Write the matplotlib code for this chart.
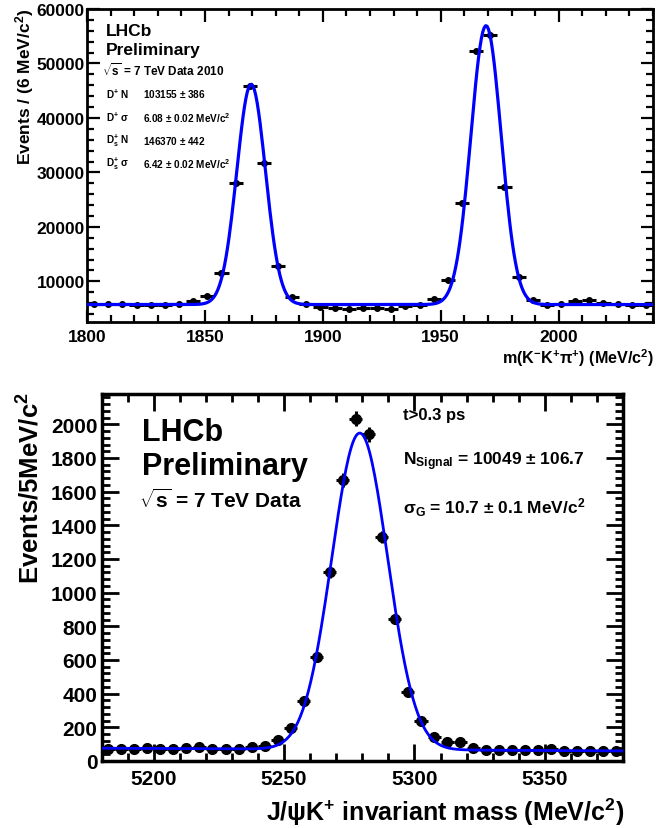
import matplotlib
matplotlib.use('Agg')
import matplotlib.pyplot as plt
import numpy as np
from matplotlib.ticker import MultipleLocator

plt.rcParams['font.family'] = ['Liberation Sans', 'DejaVu Sans']
plt.rcParams['font.weight'] = 'bold'
plt.rcParams['mathtext.fontset'] = 'custom'
plt.rcParams['mathtext.rm'] = 'Liberation Sans:bold'
plt.rcParams['mathtext.it'] = 'Liberation Sans:bold'
plt.rcParams['mathtext.bf'] = 'Liberation Sans:bold'
plt.rcParams['mathtext.sf'] = 'Liberation Sans:bold'
plt.rcParams['mathtext.default'] = 'rm'

# --- top panel data: m(K-K+pi+), 6 MeV bins ---
top_centers = np.arange(1803, 2040, 6)
top_counts = [5770, 5770, 5770, 5700, 5650, 5650, 5770, 6330, 7240, 11600,
              28140, 45800, 31690, 12800, 7190, 5770, 5350, 5160, 4980, 5160,
              5160, 4980, 5460, 5590, 6690, 10180, 24460, 52200, 55200, 27330,
              10860, 6510, 5590, 5770, 6380, 6510, 5960, 5770, 5590, 5590]
# fit: baseline, (mean, sigma, amplitude) for D+ and Ds+
top_base = 5750
top_peaks = [(1869.6, 6.08, 40450), (1969.2, 6.42, 51200)]

# --- bottom panel data: J/psi K+ mass, 5 MeV bins ---
bot_centers = np.arange(5182.5, 5380, 5)
bot_counts = [71, 71, 71, 75, 71, 71, 75, 81, 69, 69, 71, 85, 91, 126, 196,
              354, 619, 1120, 1668, 2034, 1940, 1331, 843, 408, 235, 144, 111,
              111, 75, 67, 67, 67, 67, 67, 71, 62, 61, 61, 62, 61]
bot_base = (76, 60)  # linear background at left / right edge
bot_peak = (5279.0, 10.7, 1880)

W, H = 656, 829
fig = plt.figure(figsize=(W / 100, H / 100), dpi=100)


def px(x, y):
    return x / W, 1 - y / H


def style_axes(ax, lw, maj, mnr, fs, xpad, ypad):
    for s in ax.spines.values():
        s.set_linewidth(lw)
    ax.tick_params(which='both', direction='in', top=True, right=True,
                   width=lw * 0.8, labelsize=fs)
    ax.tick_params(which='major', length=maj)
    ax.tick_params(which='minor', length=mnr)
    ax.tick_params(axis='x', pad=xpad)
    ax.tick_params(axis='y', pad=ypad)
    for lab in ax.get_xticklabels() + ax.get_yticklabels():
        lab.set_fontweight('bold')


# ================= top panel =================
ax1 = fig.add_axes([87 / W, 1 - 322.7 / H, 566 / W, 312.7 / H])
ax1.set_xlim(1800, 2040)
ax1.set_ylim(2600, 60000)
ax1.xaxis.set_major_locator(MultipleLocator(50))
ax1.xaxis.set_minor_locator(MultipleLocator(10))
ax1.yaxis.set_major_locator(MultipleLocator(10000))
ax1.yaxis.set_minor_locator(MultipleLocator(2000))

ax1.errorbar(top_centers, top_counts, xerr=3, yerr=np.sqrt(top_counts),
             fmt='o', color='black', ms=4, elinewidth=2.2, capsize=0, zorder=2)
xf = np.linspace(1800, 2040, 400)
yf = top_base + sum(a * np.exp(-0.5 * ((xf - m) / s) ** 2) for m, s, a in top_peaks)
ax1.plot(xf, yf, color='#0000ff', lw=2.3, zorder=3)
style_axes(ax1, 2.0, 9, 5, 12.5, 5, 1.5)

fig.text(*px(106, 32), 'LHCb', fontsize=12.5, fontweight='bold', va='center')
fig.text(*px(106, 50), 'Preliminary', fontsize=12.5, fontweight='bold', va='center')
fig.text(*px(102, 71), r'$\sqrt{s}$ = 7 TeV Data 2010', fontsize=8.5,
         fontweight='bold', va='center')
rows = [(r'D$^{+}$ N', r'103155 $\pm$ 386'),
        (r'D$^{+}$ σ', r'6.08 $\pm$ 0.02 MeV/c$^{2}$'),
        (r'D$_{s}^{+}$ N', r'146370 $\pm$ 442'),
        (r'D$_{s}^{+}$ σ', r'6.42 $\pm$ 0.02 MeV/c$^{2}$')]
for i, (lab, val) in enumerate(rows):
    y = 94.5 + i * 23.2
    fig.text(*px(106, y), lab, fontsize=7.2, fontweight='bold', va='center')
    fig.text(*px(143, y), val, fontsize=7.2, fontweight='bold', va='center')

fig.text(*px(25, 9), r'Events / (6 MeV/c$^{2}$)', fontsize=12.5, fontweight='bold',
         rotation=90, ha='center', va='top')
fig.text(*px(654, 358), r'm(K$^{-}$K$^{+}$π$^{+}$) (MeV/c$^{2}$)', fontsize=11.6,
         fontweight='bold', ha='right', va='center')

# ================= bottom panel =================
ax2 = fig.add_axes([101.7 / W, 1 - 762 / H, 521.3 / W, 367 / H])
ax2.set_xlim(5180, 5380)
ax2.set_ylim(0, 2180)
ax2.xaxis.set_major_locator(MultipleLocator(50))
ax2.xaxis.set_minor_locator(MultipleLocator(10))
ax2.yaxis.set_major_locator(MultipleLocator(200))
ax2.yaxis.set_minor_locator(MultipleLocator(40))

ax2.errorbar(bot_centers, bot_counts, xerr=2.5, yerr=np.sqrt(bot_counts),
             fmt='o', color='black', ms=7, elinewidth=2.2, capsize=0, zorder=2)
xb = np.linspace(5180, 5380, 400)
m, s, a = bot_peak
yb = np.interp(xb, [5180, 5380], bot_base) + a * np.exp(-0.5 * ((xb - m) / s) ** 2)
ax2.plot(xb, yb, color='#0000ff', lw=2.0, zorder=3)
style_axes(ax2, 2.5, 12, 6, 15, 6, 3)

fig.text(*px(142, 433), 'LHCb', fontsize=22, fontweight='bold', va='center')
fig.text(*px(142, 467), 'Preliminary', fontsize=22, fontweight='bold', va='center')
fig.text(*px(139, 500), r'$\sqrt{s}$ = 7 TeV Data', fontsize=15,
         fontweight='bold', va='center')
fig.text(*px(403, 416), 't>0.3 ps', fontsize=12, fontweight='bold', va='center')
fig.text(*px(403, 462), r'N$_{Signal}$ = 10049 $\pm$ 106.7', fontsize=12.5,
         fontweight='bold', va='center')
fig.text(*px(403, 508), r'σ$_{G}$ = 10.7 $\pm$ 0.1 MeV/c$^{2}$', fontsize=12.5,
         fontweight='bold', va='center')

fig.text(*px(31, 392), r'Events/5MeV/c$^{2}$', fontsize=18.5, fontweight='bold',
         rotation=90, ha='center', va='top')
fig.text(*px(624, 812), r'J/ψK$^{+}$ invariant mass (MeV/c$^{2}$)', fontsize=18,
         fontweight='bold', ha='right', va='center')

fig.savefig('out.png', dpi=100)
